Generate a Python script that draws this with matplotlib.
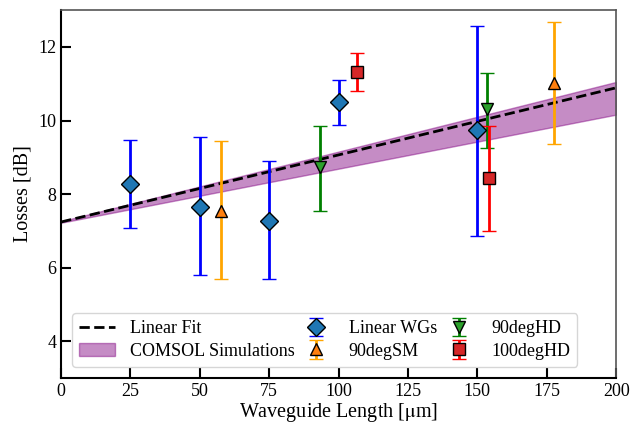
import numpy as np
import matplotlib.pyplot as plt

plt.rcParams['font.family'] = ['Liberation Serif', 'DejaVu Serif']
plt.rcParams['mathtext.fontset'] = 'stix'

# --- data ---
wg_x = [25, 50, 75, 100, 150]
wg_y = [8.28, 7.66, 7.27, 10.51, 9.73]
wg_lo = [7.07, 5.81, 5.68, 9.89, 6.87]
wg_hi = [9.48, 9.54, 8.89, 11.11, 12.57]

sm_x = [57.5, 177.5]
sm_y = [7.54, 11.03]
sm_lo = [5.68, 9.35]
sm_hi = [9.43, 12.68]

hd90_x = [93.3, 153.5]
hd90_y = [8.73, 10.30]
hd90_lo = [7.54, 9.24]
hd90_hi = [9.86, 11.30]

hd100_x = [106.7, 154.3]
hd100_y = [11.32, 8.43]
hd100_lo = [10.81, 7.00]
hd100_hi = [11.84, 9.84]

fit_x = [0, 200]
fit_y = [7.24, 10.89]

sim_x = [0, 200]
sim_lo = [7.22, 10.16]
sim_hi = [7.26, 11.05]


def errs(y, lo, hi):
    y = np.array(y)
    return [y - np.array(lo), np.array(hi) - y]


fig, ax = plt.subplots(figsize=(6.3, 4.26), dpi=100)

ln_fit, = ax.plot(fit_x, fit_y, 'k--', lw=2, label='Linear Fit', zorder=3)
band = ax.fill_between(sim_x, sim_lo, sim_hi, color='purple', alpha=0.45,
                       edgecolor='purple', label='COMSOL Simulations', zorder=1)

kw = dict(ls='none', capsize=5, elinewidth=2, capthick=1.5, mec='k', mew=1, ms=9, zorder=4)
e1 = ax.errorbar(wg_x, wg_y, yerr=errs(wg_y, wg_lo, wg_hi), fmt='D', color='blue',
                 mfc='tab:blue', label='Linear WGs', **kw)
e2 = ax.errorbar(sm_x, sm_y, yerr=errs(sm_y, sm_lo, sm_hi), fmt='^', color='orange',
                 mfc='tab:orange', label='90degSM', **kw)
e3 = ax.errorbar(hd90_x, hd90_y, yerr=errs(hd90_y, hd90_lo, hd90_hi), fmt='v', color='green',
                 mfc='tab:green', label='90degHD', **kw)
e4 = ax.errorbar(hd100_x, hd100_y, yerr=errs(hd100_y, hd100_lo, hd100_hi), fmt='s', color='red',
                 mfc='tab:red', label='100degHD', **kw)

ax.set_xlim(0, 200)
ax.set_ylim(3, 13)
ax.set_xticks([0, 25, 50, 75, 100, 125, 150, 175, 200])
ax.set_yticks([4, 6, 8, 10, 12])
ax.tick_params(direction='in', length=7, width=1.5, labelsize=13)
for s in ['left', 'bottom']:
    ax.spines[s].set_linewidth(1.5)
for s in ['top', 'right']:
    ax.spines[s].set_color('#555555')
    ax.spines[s].set_linewidth(1.2)

ax.set_xlabel('Waveguide Length [$\\mathrm{\\mu}$m]', fontsize=14.5, labelpad=1)
ax.set_ylabel('Losses [dB]', fontsize=14.5, labelpad=4)

ax.legend(handles=[ln_fit, band, e1, e2, e3, e4], ncol=3, loc='lower left',
          fontsize=13, handlelength=2, columnspacing=0.2, borderaxespad=0.6,
          handletextpad=0.8, labelspacing=0.3)

plt.subplots_adjust(left=0.097, right=0.978, top=0.976, bottom=0.113)
plt.savefig('out.png')
